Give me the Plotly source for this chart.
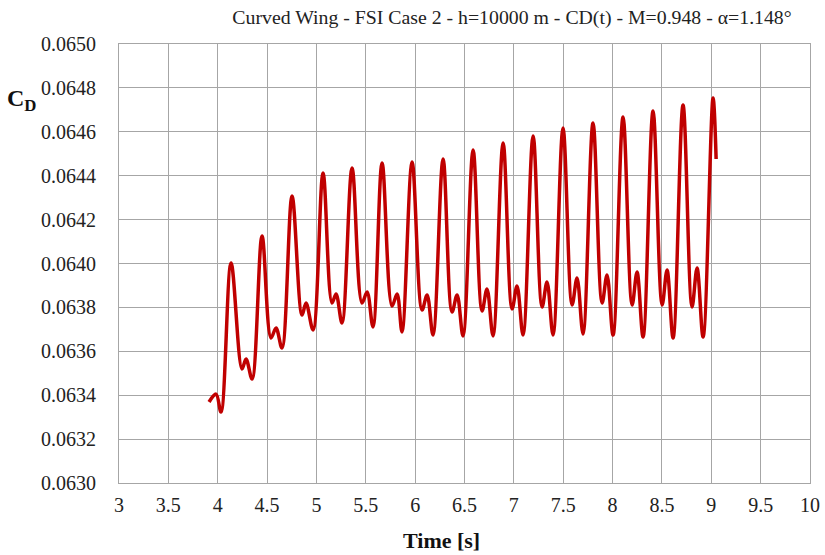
import plotly.graph_objects as go

# Time [s] and CD values (extrema and inflection points of the signal)
time_s = [3.912, 3.983, 4.033, 4.135, 4.246, 4.287, 4.348, 4.449, 4.540, 4.591,
          4.651, 4.753, 4.854, 4.895, 4.966, 5.067, 5.158, 5.199, 5.259, 5.361,
          5.462, 5.513, 5.573, 5.665, 5.766, 5.817, 5.867, 5.969, 6.070, 6.121,
          6.181, 6.283, 6.374, 6.425, 6.485, 6.587, 6.678, 6.728, 6.789, 6.891,
          6.982, 7.032, 7.093, 7.195, 7.286, 7.336, 7.397, 7.498, 7.590, 7.640,
          7.701, 7.802, 7.894, 7.944, 8.005, 8.106, 8.198, 8.248, 8.309, 8.410,
          8.502, 8.552, 8.613, 8.714, 8.805, 8.856, 8.917, 9.018, 9.049]
cd = [0.063369, 0.063405, 0.063323, 0.064002, 0.063519, 0.063565, 0.063474, 0.064125, 0.063661, 0.063706,
      0.063615, 0.064307, 0.063765, 0.063820, 0.063697, 0.064412, 0.063820, 0.063861, 0.063729, 0.064435,
      0.063820, 0.063870, 0.063711, 0.064458, 0.063806, 0.063861, 0.063688, 0.064462, 0.063788, 0.063857,
      0.063674, 0.064476, 0.063779, 0.063857, 0.063670, 0.064517, 0.063784, 0.063884, 0.063670, 0.064549,
      0.063793, 0.063897, 0.063674, 0.064581, 0.063802, 0.063916, 0.063674, 0.064617, 0.063811, 0.063934,
      0.063679, 0.064640, 0.063820, 0.063948, 0.063674, 0.064667, 0.063811, 0.063961, 0.063665, 0.064695,
      0.063811, 0.063970, 0.063661, 0.064722, 0.063802, 0.063979, 0.063665, 0.064754, 0.064476]

x_ticks = [3, 3.5, 4, 4.5, 5, 5.5, 6, 6.5, 7, 7.5, 8, 8.5, 9, 9.5, 10]
x_tick_labels = ["3", "3.5", "4", "4.5", "5", "5.5", "6", "6.5", "7", "7.5", "8", "8.5", "9", "9.5", "10"]

title = "Curved Wing - FSI Case 2 - h=10000 m - CD(t) - M=0.948 - \u03b1=1.148\u00b0"
FONT = "Liberation Serif, Times New Roman, serif"

W, H = 825, 555
L, R, T, B = 119, 15, 44, 72
PW, PH = W - L - R, H - T - B

fig = go.Figure()
fig.add_trace(go.Scatter(
    x=time_s, y=cd, mode="lines",
    line=dict(color="#C00000", width=3.5, shape="spline", smoothing=1.0),
    showlegend=False, hoverinfo="x+y",
))

grid = "#a6a6a6"
fig.update_layout(
    width=W, height=H,
    margin=dict(l=L, r=R, t=T, b=B, autoexpand=False),
    paper_bgcolor="white", plot_bgcolor="white",
    font=dict(family=FONT, size=20, color="#222222"),
    title=dict(text=title, x=512 / W, xanchor="center", y=1 - 17 / H, yanchor="middle",
               xref="container", yref="container", automargin=False,
               font=dict(family=FONT, size=19.8, color="#222222")),
    xaxis=dict(range=[3, 10], tickvals=x_ticks, ticktext=x_tick_labels,
               showgrid=True, gridcolor=grid, gridwidth=1, automargin=False,
               showline=True, linecolor=grid, linewidth=1, mirror=True,
               zeroline=False, ticks="", ticklabelstandoff=4,
               tickfont=dict(family=FONT, size=20, color="#222222")),
    yaxis=dict(range=[0.063, 0.065], dtick=0.0002, tick0=0.063, tickformat=".4f",
               showgrid=True, gridcolor=grid, gridwidth=1, automargin=False,
               showline=True, linecolor=grid, linewidth=1, mirror=True,
               zeroline=False, ticks="", ticklabelstandoff=18,
               tickfont=dict(family=FONT, size=20, color="#222222")),
)

# x-axis title
fig.add_annotation(text="<b>Time [s]</b>", xref="paper", yref="paper",
                   x=(441 - L) / PW, y=-(540 - (T + PH)) / PH, xanchor="center", yanchor="middle",
                   showarrow=False, font=dict(family=FONT, size=22, color="#111111"))
# y-axis label C_D
fig.add_annotation(text="<b>C<sub>D</sub></b>", xref="paper", yref="paper",
                   x=(5 - L) / PW, y=(T + PH - 100) / PH, xanchor="left", yanchor="middle",
                   showarrow=False, font=dict(family=FONT, size=24, color="#111111"))

fig.write_html("out.html")
